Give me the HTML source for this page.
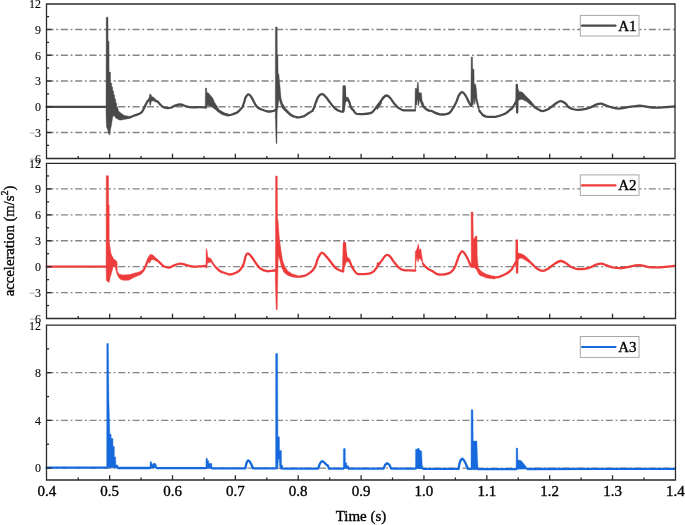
<!DOCTYPE html><html><head><meta charset="utf-8"><style>html,body{margin:0;padding:0;background:#fff;overflow:hidden}svg{display:block;will-change:transform}text{font-family:"Liberation Serif",serif;fill:#000;stroke:#000;stroke-width:0.35px}</style></head><body>
<svg width="685" height="525" viewBox="0 0 685 525">
<line x1="46.5" y1="29.50" x2="675.0" y2="29.50" stroke="#858585" stroke-width="1.3" stroke-dasharray="7.1 2.67 1.9 2.67"/>
<line x1="46.5" y1="55.25" x2="675.0" y2="55.25" stroke="#858585" stroke-width="1.3" stroke-dasharray="7.1 2.67 1.9 2.67"/>
<line x1="46.5" y1="81.00" x2="675.0" y2="81.00" stroke="#858585" stroke-width="1.3" stroke-dasharray="7.1 2.67 1.9 2.67"/>
<line x1="46.5" y1="106.75" x2="675.0" y2="106.75" stroke="#858585" stroke-width="1.3" stroke-dasharray="7.1 2.67 1.9 2.67"/>
<line x1="46.5" y1="132.50" x2="675.0" y2="132.50" stroke="#858585" stroke-width="1.3" stroke-dasharray="7.1 2.67 1.9 2.67"/>
<line x1="46.5" y1="188.90" x2="675.5" y2="188.90" stroke="#858585" stroke-width="1.3" stroke-dasharray="7.1 2.67 1.9 2.67"/>
<line x1="46.5" y1="214.83" x2="675.5" y2="214.83" stroke="#858585" stroke-width="1.3" stroke-dasharray="7.1 2.67 1.9 2.67"/>
<line x1="46.5" y1="240.75" x2="675.5" y2="240.75" stroke="#858585" stroke-width="1.3" stroke-dasharray="7.1 2.67 1.9 2.67"/>
<line x1="46.5" y1="266.68" x2="675.5" y2="266.68" stroke="#858585" stroke-width="1.3" stroke-dasharray="7.1 2.67 1.9 2.67"/>
<line x1="46.5" y1="292.60" x2="675.5" y2="292.60" stroke="#858585" stroke-width="1.3" stroke-dasharray="7.1 2.67 1.9 2.67"/>
<line x1="46.5" y1="372.70" x2="675.5" y2="372.70" stroke="#858585" stroke-width="1.3" stroke-dasharray="7.1 2.67 1.9 2.67"/>
<line x1="46.5" y1="420.40" x2="675.5" y2="420.40" stroke="#858585" stroke-width="1.3" stroke-dasharray="7.1 2.67 1.9 2.67"/>
<line x1="46.5" y1="468.10" x2="675.5" y2="468.10" stroke="#858585" stroke-width="1.3" stroke-dasharray="7.1 2.67 1.9 2.67"/>
<g>
<polygon points="106.0,106.9 106.2,17.2 108.0,17.2 108.1,41.2 109.0,41.2 109.1,72.1 110.5,72.1 110.6,83.0 111.6,83.0 111.7,86.5 112.6,87.0 112.7,90.5 113.6,91.0 113.7,94.5 114.6,95.0 114.7,98.5 115.6,99.0 115.7,102.5 116.6,103.0 116.7,106.5 117.6,107.0 118.5,111.0 121.8,113.8 124.6,115.5 130.0,116.4 130.0,118.4 126.7,119.0 120.0,120.2 116.0,118.2 114.0,115.5 112.7,116.9 111.3,126.0 110.3,130.0 109.7,134.8 109.0,134.8 108.3,131.5 107.3,128.7 106.5,127.3 106.2,120.0 106.0,110.0" fill="#4a4a4a" stroke="#4a4a4a" stroke-width="0.4" stroke-linejoin="round"/>
<polygon points="205.2,107.3 205.4,88.0 206.6,88.0 206.8,92.2 208.7,93.3 211.0,96.0 212.9,98.3 214.4,102.1 217.1,106.3 219.4,110.1 222.0,111.5 222.0,113.3 220.9,113.1 217.9,112.0 215.6,109.7 212.5,107.4 210.2,105.9 207.0,105.5 206.5,108.6 205.6,108.6" fill="#4a4a4a" stroke="#4a4a4a" stroke-width="0.4" stroke-linejoin="round"/>
<polygon points="148.5,100.5 149.8,94.1 150.8,94.3 151.8,96.4 154.0,97.6 156.3,99.9 157.5,101.5 156.0,102.3 154.0,101.0 151.5,101.0 150.5,105.2 149.8,105.2 149.4,101.5" fill="#4a4a4a" stroke="#4a4a4a" stroke-width="0.4" stroke-linejoin="round"/>
<polygon points="219.0,110.0 222.0,111.8 225.0,113.2 228.5,114.1 228.5,116.2 225.0,115.6 222.0,114.6 219.5,113.0" fill="#4a4a4a" stroke="#4a4a4a" stroke-width="0.4" stroke-linejoin="round"/>
<polygon points="275.3,110.5 275.4,27.1 277.2,27.1 277.3,55.2 277.9,55.2 278.1,73.8 278.8,73.8 280.2,88.3 281.0,98.0 282.7,103.7 285.9,108.5 290.7,113.4 294.0,115.5 297.2,116.4 297.2,118.3 293.0,117.2 290.0,115.8 285.9,112.0 282.5,108.5 280.5,104.0 279.0,99.0 277.2,112.0 276.9,143.4 276.1,143.4 275.5,122.3 275.3,116.0" fill="#4a4a4a" stroke="#4a4a4a" stroke-width="0.4" stroke-linejoin="round"/>
<polygon points="342.8,111.5 343.4,86.4 344.6,86.4 345.2,90.0 345.5,98.5 346.5,97.3 347.8,97.0 348.9,99.3 348.5,101.5 346.5,101.0 345.5,103.0 344.5,110.0 343.5,112.0" fill="#4a4a4a" stroke="#4a4a4a" stroke-width="0.4" stroke-linejoin="round"/>
<polygon points="376.0,108.5 377.5,104.5 379.5,102.0 381.0,101.3 381.6,103.5 379.5,106.5 377.5,109.5" fill="#4a4a4a" stroke="#4a4a4a" stroke-width="0.4" stroke-linejoin="round"/>
<polygon points="414.9,110.5 415.2,88.5 416.2,88.1 416.8,90.0 417.6,82.2 418.3,82.2 418.8,92.4 421.4,92.9 422.1,100.5 423.3,102.9 424.0,105.2 425.7,107.6 428.6,109.5 428.6,111.5 425.5,110.0 423.5,108.0 422.0,106.5 421.0,103.5 419.6,100.0 418.8,105.5 418.2,105.5 417.7,100.0 417.2,100.0 416.8,105.0 415.6,105.0 415.5,111.0" fill="#4a4a4a" stroke="#4a4a4a" stroke-width="0.4" stroke-linejoin="round"/>
<polygon points="470.8,106.2 471.2,57.1 472.5,57.1 472.7,69.3 474.0,69.3 474.2,84.3 475.6,84.3 476.5,90.0 477.1,98.6 478.6,105.0 480.0,111.4 479.0,111.5 477.5,106.5 476.2,102.0 475.6,97.5 475.2,102.0 474.5,104.5 473.9,98.6 473.3,104.5 472.5,105.0 471.5,107.0" fill="#4a4a4a" stroke="#4a4a4a" stroke-width="0.4" stroke-linejoin="round"/>
<polygon points="516.6,101.0 516.9,84.7 517.5,84.7 517.8,91.0 519.3,91.4 522.1,92.1 526.4,96.4 530.7,100.7 535.0,106.0 535.0,108.6 530.7,105.0 526.4,101.4 522.0,99.3 519.0,100.0 517.6,101.0" fill="#4a4a4a" stroke="#4a4a4a" stroke-width="0.4" stroke-linejoin="round"/>
<path d="M46.6,106.9 C66.5,106.9 86.3,106.9 106.2,106.9" fill="none" stroke="#4a4a4a" stroke-width="2.3" stroke-linejoin="round" stroke-linecap="round"/>
<path d="M130.0,117.4 C131.4,116.8 132.7,116.1 134.1,115.5 C135.5,114.9 137.4,114.6 138.7,114.0 C140.0,113.4 140.9,113.2 141.9,112.0 C142.9,110.8 143.6,108.8 144.5,107.1 C145.4,105.4 146.3,103.6 147.2,101.8 L149.1,99.5" fill="none" stroke="#4a4a4a" stroke-width="2.3" stroke-linejoin="round" stroke-linecap="round"/>
<path d="M156.3,100.9 L157.9,101.8 C158.9,102.9 159.9,104.2 160.9,105.2 C161.9,106.2 162.8,107.0 164.0,107.5 C165.2,108.0 166.5,108.2 167.8,108.2 C169.1,108.2 170.4,107.9 171.6,107.5 C172.8,107.1 173.5,106.1 175.0,105.6 C176.5,105.1 178.5,104.4 180.4,104.5 C182.3,104.6 184.3,105.9 186.2,106.4 C188.1,106.9 189.9,107.3 192.0,107.4 C194.1,107.5 196.8,107.1 199.0,107.1 C201.2,107.1 203.2,107.2 205.3,107.3" fill="none" stroke="#4a4a4a" stroke-width="2.3" stroke-linejoin="round" stroke-linecap="round"/>
<path d="M222.0,112.6 C223.0,113.1 223.9,113.6 225.0,114.0 C226.1,114.4 227.3,115.0 228.5,115.1 C229.7,115.2 230.5,115.0 232.0,114.5 C233.5,114.0 235.7,113.5 237.5,112.3 C239.3,111.0 240.9,108.8 242.6,107.0 L244.2,102.0 L245.5,97.5 C246.4,96.5 247.2,94.6 248.1,94.4 C249.0,94.2 250.0,95.2 250.8,96.2 C251.7,97.2 252.2,98.8 253.2,100.5 C254.2,102.2 255.4,105.0 256.7,106.5 C258.0,108.0 259.0,108.5 260.9,109.3 C262.8,110.1 265.7,111.3 267.9,111.5 C270.1,111.7 272.2,110.9 274.3,110.6 L275.5,110.0" fill="none" stroke="#4a4a4a" stroke-width="2.3" stroke-linejoin="round" stroke-linecap="round"/>
<path d="M297.1,117.3 L299.0,117.3 C300.6,117.0 302.4,116.8 303.7,116.3 C305.0,115.8 305.2,115.3 306.7,114.4 C308.2,113.5 310.6,112.1 312.5,110.9 L314.3,107.0 L315.8,102.5 L317.8,97.5 L320.0,94.8 L322.0,94.0 L324.0,95.0 C324.8,95.9 325.6,96.7 326.5,97.8 C327.4,98.9 328.4,100.4 329.5,101.8 C330.6,103.2 331.8,105.0 333.0,106.3 C334.2,107.6 335.4,108.7 336.5,109.5 C337.6,110.3 338.5,110.6 339.4,111.0 C340.3,111.4 340.9,111.5 341.7,111.7 L343.3,111.7 L343.8,86.4 L344.6,86.4 L345.2,99.2 L346.4,98.6 C347.2,99.2 347.9,99.0 348.7,100.5 C349.5,102.0 350.2,105.8 351.0,107.4 C351.8,109.0 352.5,109.2 353.4,110.3 C354.3,111.4 354.8,113.2 356.3,113.8 C357.9,114.4 360.4,114.2 362.7,114.1 C365.0,114.0 368.6,113.6 370.4,113.1 C372.2,112.6 372.4,112.1 373.5,110.9 C374.6,109.8 375.9,107.6 377.0,106.2 C378.1,104.8 378.8,104.1 379.9,102.7 C381.0,101.3 382.3,98.8 383.4,97.6 C384.5,96.4 385.5,95.4 386.7,95.5 C387.9,95.6 389.1,96.8 390.4,98.2 C391.7,99.6 393.1,102.3 394.5,103.9 C395.9,105.5 397.2,107.0 398.6,108.0 C400.0,109.0 400.9,109.7 402.7,110.1 C404.5,110.5 407.6,110.3 409.7,110.3 C411.8,110.3 413.2,110.3 415.0,110.3" fill="none" stroke="#4a4a4a" stroke-width="2.3" stroke-linejoin="round" stroke-linecap="round"/>
<path d="M428.6,110.5 C429.5,110.6 430.3,110.5 431.4,110.9 C432.5,111.3 433.8,112.3 435.2,112.9 C436.6,113.5 438.4,114.1 440.0,114.3 C441.6,114.5 443.1,114.6 444.8,114.3 C446.5,114.0 448.1,114.4 450.0,112.4 C451.9,110.4 454.7,105.3 456.1,102.5 C457.6,99.7 457.7,97.4 458.7,95.7 C459.7,94.0 461.0,92.2 462.1,92.2 C463.2,92.2 464.5,94.0 465.6,95.7 C466.8,97.4 467.9,100.2 469.0,102.5 L471.0,105.8" fill="none" stroke="#4a4a4a" stroke-width="2.3" stroke-linejoin="round" stroke-linecap="round"/>
<path d="M479.5,111.0 C480.6,112.3 481.8,114.1 482.9,115.0 C484.0,115.9 484.9,116.3 486.4,116.6 C487.9,116.9 490.4,116.8 492.1,116.8 C493.8,116.8 494.2,117.1 496.4,116.6 C498.5,116.1 502.4,115.0 505.0,113.7 C507.6,112.4 509.5,110.2 511.8,108.5 L513.5,106.2 L515.2,103.4 L516.6,100.0 L516.8,84.9 L517.2,112.6 L517.6,90.0" fill="none" stroke="#4a4a4a" stroke-width="2.3" stroke-linejoin="round" stroke-linecap="round"/>
<path d="M535.0,107.3 C536.2,108.0 537.2,108.9 538.5,109.5 C539.8,110.1 541.0,111.2 542.7,111.1 C544.4,111.0 546.5,110.2 548.5,109.1 C550.5,108.0 552.4,105.8 554.4,104.5 C556.4,103.2 558.5,101.4 560.3,101.2 C562.1,101.0 563.9,102.3 565.3,103.3 C566.7,104.3 567.4,106.0 568.6,107.0 C569.8,108.0 570.8,108.5 572.5,109.0 C574.2,109.5 576.9,109.9 578.9,109.9 C580.9,109.9 582.8,109.5 584.7,109.1 C586.6,108.7 588.6,108.1 590.5,107.4 C592.4,106.7 594.4,105.3 596.1,104.7 C597.9,104.1 599.4,103.6 601.0,103.7 C602.6,103.8 603.8,104.7 605.8,105.4 C607.8,106.1 610.5,107.2 612.7,107.7 C614.9,108.2 616.7,108.6 619.0,108.6 C621.3,108.5 624.2,107.8 626.6,107.4 C629.0,107.0 631.3,106.6 633.5,106.3 C635.7,106.0 637.5,105.5 639.8,105.6 C642.1,105.7 644.8,106.4 647.4,106.8 C650.0,107.2 652.7,107.6 655.7,107.7 C658.7,107.8 662.3,107.4 665.4,107.2 C668.5,107.0 671.5,106.6 674.5,106.3" fill="none" stroke="#4a4a4a" stroke-width="2.3" stroke-linejoin="round" stroke-linecap="round"/>
<polygon points="106.1,266.7 106.2,175.7 108.5,175.7 108.6,204.9 109.2,204.9 109.2,241.4 110.9,252.9 111.4,254.6 113.7,259.1 116.6,260.9 117.1,263.0 117.3,271.1 118.9,274.0 122.9,275.1 129.7,274.6 135.0,272.9 138.3,272.2 142.1,270.8 142.7,272.7 140.8,274.5 135.0,276.9 128.6,280.3 122.9,280.3 120.0,279.1 118.3,276.9 117.0,274.0 115.5,268.5 114.9,266.6 113.7,266.0 112.6,268.9 111.4,273.4 110.3,276.9 109.1,282.6 108.0,281.8 106.3,280.3" fill="#ee3b3b" stroke="#ee3b3b" stroke-width="0.4" stroke-linejoin="round"/>
<polygon points="147.5,261.5 148.5,257.0 150.0,254.5 152.0,254.5 154.0,256.0 156.5,258.5 156.5,261.0 153.0,259.5 151.0,260.0 150.0,263.0 149.0,262.5" fill="#ee3b3b" stroke="#ee3b3b" stroke-width="0.4" stroke-linejoin="round"/>
<polygon points="205.9,266.5 206.2,248.4 207.0,250.0 207.9,257.2 210.8,258.4 213.8,263.6 216.7,267.2 216.7,269.5 214.0,266.5 211.0,262.0 207.5,263.0 206.6,268.5" fill="#ee3b3b" stroke="#ee3b3b" stroke-width="0.4" stroke-linejoin="round"/>
<polygon points="275.4,270.0 275.6,176.0 277.3,176.0 277.5,219.1 277.9,219.1 279.4,238.9 280.9,249.6 282.5,260.2 284.7,266.3 287.8,270.9 292.4,273.9 298.4,275.8 303.0,275.4 303.0,277.0 298.4,277.7 292.4,277.0 287.8,275.4 284.0,272.4 281.7,267.8 279.5,259.0 278.3,256.0 277.9,270.0 277.2,309.7 276.2,309.7 275.3,280.7" fill="#ee3b3b" stroke="#ee3b3b" stroke-width="0.4" stroke-linejoin="round"/>
<polygon points="415.1,270.6 415.3,251.6 416.5,250.0 417.5,247.0 418.5,243.8 419.2,250.0 420.8,248.7 422.0,256.9 423.3,264.5 421.0,260.0 419.5,258.0 418.0,262.0 417.0,257.0 415.8,263.0 415.5,271.0" fill="#ee3b3b" stroke="#ee3b3b" stroke-width="0.4" stroke-linejoin="round"/>
<polygon points="471.3,266.8 471.1,212.0 472.9,212.0 473.3,238.8 474.5,238.8 475.1,236.3 477.0,236.3 477.2,254.9 477.7,262.0 478.5,268.0 480.0,270.0 483.0,272.5 486.0,274.0 490.0,275.3 495.0,276.3 495.0,279.0 490.0,278.5 486.0,277.8 483.0,276.5 480.0,275.5 478.5,274.0 477.3,271.0 476.0,269.0 474.0,267.5 472.3,267.5" fill="#ee3b3b" stroke="#ee3b3b" stroke-width="0.4" stroke-linejoin="round"/>
<polygon points="343.9,266.0 344.2,243.0 344.9,243.0 345.5,252.0 346.5,257.9 348.3,258.8 349.5,260.5 348.5,262.0 347.0,261.5 345.8,263.0 344.8,266.5" fill="#ee3b3b" stroke="#ee3b3b" stroke-width="0.4" stroke-linejoin="round"/>
<polygon points="516.9,259.0 517.6,252.8 521.7,253.9 524.0,255.1 527.5,258.0 532.2,262.7 532.4,265.2 527.5,261.5 521.7,258.0 517.6,259.2" fill="#ee3b3b" stroke="#ee3b3b" stroke-width="0.4" stroke-linejoin="round"/>
<path d="M46.6,266.7 C66.5,266.7 86.4,266.7 106.3,266.7" fill="none" stroke="#ee3b3b" stroke-width="2.3" stroke-linejoin="round" stroke-linecap="round"/>
<path d="M141.0,272.5 C141.8,271.8 142.5,271.6 143.3,270.5 C144.1,269.4 145.0,267.4 145.8,265.9 L147.6,260.9 L149.0,258.0" fill="none" stroke="#ee3b3b" stroke-width="2.3" stroke-linejoin="round" stroke-linecap="round"/>
<path d="M156.0,259.5 L158.0,261.0 C158.9,261.8 159.5,262.5 160.6,263.4 C161.7,264.3 162.9,265.8 164.3,266.5 C165.8,267.2 167.6,267.7 169.3,267.5 C171.0,267.3 172.8,265.7 174.7,265.1 C176.6,264.5 178.6,263.7 180.5,263.7 C182.4,263.7 184.2,264.6 186.4,265.1 C188.6,265.6 191.1,266.4 193.4,266.6 C195.7,266.8 198.5,266.4 200.4,266.3 C202.3,266.2 203.5,266.0 205.1,265.9 L206.1,266.5" fill="none" stroke="#ee3b3b" stroke-width="2.3" stroke-linejoin="round" stroke-linecap="round"/>
<path d="M216.7,268.0 C217.9,269.1 218.8,270.4 220.2,271.2 C221.6,272.0 223.3,272.4 224.9,273.0 C226.5,273.6 227.8,274.5 229.5,274.5 C231.2,274.5 233.7,273.8 235.4,273.0 C237.2,272.2 238.7,271.5 240.0,270.0 C241.3,268.5 242.5,266.6 243.5,264.2 C244.5,261.8 245.1,257.2 245.9,255.4 C246.7,253.6 247.2,253.3 248.2,253.6 C249.2,253.9 250.3,255.2 251.7,257.0 C253.1,258.8 255.2,262.5 256.8,264.5 C258.4,266.5 259.4,267.9 261.1,269.0 C262.8,270.1 264.8,270.9 266.9,271.2 C269.0,271.4 271.6,270.7 273.9,270.5 L275.5,270.5" fill="none" stroke="#ee3b3b" stroke-width="2.3" stroke-linejoin="round" stroke-linecap="round"/>
<path d="M302.0,276.2 C303.0,276.0 304.1,275.9 305.0,275.6 C305.9,275.3 306.2,275.3 307.5,274.4 C308.8,273.5 311.4,271.9 312.8,270.3 C314.2,268.7 314.9,267.1 315.8,265.0 C316.7,262.9 317.1,260.0 318.1,258.0 C319.1,256.0 320.4,253.3 321.6,252.8 C322.8,252.3 323.6,253.7 325.1,255.1 C326.6,256.6 328.8,259.4 330.4,261.5 C332.0,263.6 333.4,265.9 335.0,267.4 C336.6,268.9 338.3,269.6 339.7,270.3 C341.1,271.0 342.0,271.1 343.2,271.5 L344.1,242.8 L344.9,243.0 L345.5,252.0 L346.5,257.9 L348.3,258.8 L349.3,260.2 C350.1,262.2 350.8,264.2 351.6,266.2 L353.7,269.7 C354.9,271.1 355.6,273.1 357.2,273.8 C358.8,274.5 361.0,274.2 363.1,274.1 C365.2,274.0 368.3,273.8 370.0,273.4 C371.7,273.0 372.5,272.3 373.5,271.5 C374.5,270.7 375.2,269.5 376.0,268.5 L377.6,266.2 L378.0,263.3 L378.7,264.6 C379.7,263.3 380.7,261.9 381.7,260.6 C382.7,259.3 383.7,257.6 384.6,256.6 C385.5,255.6 386.3,254.8 387.3,254.8 C388.3,254.8 389.2,255.6 390.4,256.9 C391.6,258.2 393.0,260.8 394.5,262.7 C396.0,264.6 397.6,266.8 399.2,268.0 C400.8,269.2 401.4,269.7 403.9,270.1 C406.4,270.5 410.9,270.4 414.4,270.6 L415.3,270.6" fill="none" stroke="#ee3b3b" stroke-width="2.3" stroke-linejoin="round" stroke-linecap="round"/>
<path d="M423.1,263.9 L424.9,266.2 C426.1,267.2 427.0,268.2 428.4,269.1 C429.8,270.0 431.7,270.7 433.1,271.5 C434.5,272.3 435.2,273.3 436.6,273.8 C438.0,274.3 439.6,274.6 441.2,274.6 C442.8,274.7 444.4,274.4 445.9,274.1 C447.4,273.8 448.8,273.5 450.0,272.8 C451.2,272.1 452.0,271.0 453.0,270.1 L455.2,266.3 L457.0,261.3 L459.0,255.4 C460.0,254.1 461.0,251.5 462.1,251.4 C463.2,251.3 464.5,253.1 465.6,254.8 C466.8,256.5 467.9,259.3 469.0,261.6 L470.7,265.9 L471.5,266.5" fill="none" stroke="#ee3b3b" stroke-width="2.3" stroke-linejoin="round" stroke-linecap="round"/>
<path d="M494.0,277.6 C495.9,277.3 497.7,277.3 499.8,276.6 C501.9,275.9 504.7,274.8 506.7,273.6 C508.7,272.4 510.1,270.7 511.8,269.3 L513.5,266.2 L515.2,263.4 L516.5,261.0 L516.8,240.5 L517.1,272.6 L517.5,256.0" fill="none" stroke="#ee3b3b" stroke-width="2.3" stroke-linejoin="round" stroke-linecap="round"/>
<path d="M532.2,264.0 C533.8,265.5 535.1,267.4 536.9,268.5 C538.6,269.6 540.8,270.9 542.7,270.9 C544.6,270.9 546.5,269.7 548.5,268.5 C550.5,267.3 552.4,265.1 554.4,263.9 C556.4,262.6 558.8,261.1 560.8,261.0 C562.8,260.9 564.5,262.3 566.1,263.3 C567.8,264.3 568.8,265.8 570.7,266.8 C572.6,267.8 575.4,268.8 577.7,269.1 C580.0,269.4 582.6,269.1 584.7,268.8 C586.8,268.5 588.6,268.1 590.5,267.4 C592.4,266.7 594.3,265.3 596.1,264.7 C597.9,264.1 599.7,263.5 601.4,263.6 C603.1,263.7 604.6,264.8 606.5,265.4 C608.4,266.0 610.6,266.9 612.7,267.4 C614.8,267.8 616.7,268.1 619.0,268.1 C621.3,268.1 624.2,267.6 626.6,267.2 C629.0,266.8 631.3,266.1 633.5,265.8 C635.7,265.5 637.5,264.9 639.8,265.1 C642.1,265.3 644.8,266.4 647.4,266.8 C650.0,267.2 652.7,267.4 655.7,267.4 C658.7,267.4 662.3,267.1 665.4,266.8 C668.5,266.5 671.5,266.1 674.5,265.8" fill="none" stroke="#ee3b3b" stroke-width="2.3" stroke-linejoin="round" stroke-linecap="round"/>
<polygon points="106.7,467.7 106.8,343.6 108.4,343.6 108.9,400.0 109.5,420.0 109.8,434.3 111.1,434.3 111.2,438.6 112.9,438.6 113.0,446.4 114.3,446.4 114.4,457.1 115.7,457.1 115.8,465.0 117.9,465.0 118.0,468.0" fill="#1569dc" stroke="#1569dc" stroke-width="0.4" stroke-linejoin="round"/>
<polygon points="149.9,468.0 150.2,461.5 151.4,461.8 152.2,464.5 152.8,464.5 153.3,463.3 155.5,463.5 156.5,465.5 157.2,468.1" fill="#1569dc" stroke="#1569dc" stroke-width="0.4" stroke-linejoin="round"/>
<polygon points="205.9,468.1 206.0,458.5 206.6,458.0 207.3,458.5 207.6,460.4 208.5,460.4 208.8,463.2 211.8,463.6 212.1,468.3" fill="#1569dc" stroke="#1569dc" stroke-width="0.4" stroke-linejoin="round"/>
<polygon points="275.6,468.3 275.7,353.6 277.6,353.6 277.9,436.8 279.4,436.8 279.5,450.4 281.4,450.4 281.5,465.0 282.5,465.0 282.9,468.6 281.0,469.5 280.2,468.5 279.6,466.0 279.2,459.0 278.4,459.0 278.0,466.0 277.3,469.5" fill="#1569dc" stroke="#1569dc" stroke-width="0.4" stroke-linejoin="round"/>
<polygon points="343.3,468.6 343.4,449.0 344.0,448.3 344.8,448.3 345.3,449.0 345.4,462.7 346.7,462.7 346.8,465.7 348.7,465.7 348.9,468.7" fill="#1569dc" stroke="#1569dc" stroke-width="0.4" stroke-linejoin="round"/>
<polygon points="415.5,468.7 415.6,449.3 416.4,449.3 418.7,448.1 419.9,450.4 421.6,451.0 422.2,465.0 423.4,468.9" fill="#1569dc" stroke="#1569dc" stroke-width="0.4" stroke-linejoin="round"/>
<polygon points="471.0,468.9 471.2,409.7 472.9,409.7 473.2,441.1 476.9,441.1 477.5,458.5 477.9,466.0 478.3,469.2 476.0,469.8 473.0,469.8" fill="#1569dc" stroke="#1569dc" stroke-width="0.4" stroke-linejoin="round"/>
<polygon points="516.1,469.2 516.2,448.1 517.7,448.1 517.9,460.1 521.1,460.6 523.4,463.3 525.8,466.2 527.5,469.0" fill="#1569dc" stroke="#1569dc" stroke-width="0.4" stroke-linejoin="round"/>
<path d="M46.6,467.7 C66.7,467.7 86.7,467.7 106.8,467.7" fill="none" stroke="#1569dc" stroke-width="2.3" stroke-linejoin="round" stroke-linecap="round"/>
<path d="M117.9,468.0 C128.6,468.0 139.2,468.0 149.9,468.0" fill="none" stroke="#1569dc" stroke-width="2.3" stroke-linejoin="round" stroke-linecap="round"/>
<path d="M157.0,468.1 C173.3,468.1 189.7,468.1 206.0,468.1" fill="none" stroke="#1569dc" stroke-width="2.3" stroke-linejoin="round" stroke-linecap="round"/>
<path d="M212.0,468.3 C223.1,468.3 234.2,468.3 245.3,468.3 L246.4,463.5 L247.3,461.2 L248.3,460.5 L249.5,461.3 L250.8,463.3 L252.0,466.0 L253.0,468.3 C260.5,468.3 268.1,468.3 275.6,468.3" fill="none" stroke="#1569dc" stroke-width="2.3" stroke-linejoin="round" stroke-linecap="round"/>
<path d="M282.9,468.6 C294.6,468.6 306.3,468.6 318.0,468.6 L319.6,464.3 L320.9,462.0 L322.3,461.2 L323.8,462.0 L325.2,463.5 L326.5,464.6 L327.7,465.5 L329.0,468.6 C333.8,468.6 338.6,468.6 343.4,468.6" fill="none" stroke="#1569dc" stroke-width="2.3" stroke-linejoin="round" stroke-linecap="round"/>
<path d="M348.6,468.7 C360.3,468.7 372.0,468.7 383.7,468.7 L385.2,464.6 L387.2,463.2 L389.2,464.6 L391.3,468.7 C399.4,468.7 407.4,468.7 415.5,468.7" fill="none" stroke="#1569dc" stroke-width="2.3" stroke-linejoin="round" stroke-linecap="round"/>
<path d="M423.4,468.9 C435.1,468.9 446.7,468.9 458.4,468.9 L459.5,463.5 L460.7,460.2 L462.3,458.7 L463.9,460.2 L465.5,463.0 L466.7,466.0 L467.9,468.9 C469.0,468.9 470.1,468.9 471.2,468.9" fill="none" stroke="#1569dc" stroke-width="2.3" stroke-linejoin="round" stroke-linecap="round"/>
<path d="M478.3,469.2 C490.9,469.2 503.5,469.2 516.1,469.2" fill="none" stroke="#1569dc" stroke-width="2.3" stroke-linejoin="round" stroke-linecap="round"/>
<path d="M527.5,469.0 C576.7,468.9 625.8,468.9 675.0,468.8" fill="none" stroke="#1569dc" stroke-width="2.3" stroke-linejoin="round" stroke-linecap="round"/>
</g>
<path d="M46.5,4.0 H675.0 V158.5 H46.5 Z" fill="none" stroke="#2b2b2b" stroke-width="1.3"/>
<line x1="46.5" y1="29.50" x2="51.5" y2="29.50" stroke="#2b2b2b" stroke-width="1.3"/>
<line x1="46.5" y1="55.25" x2="51.5" y2="55.25" stroke="#2b2b2b" stroke-width="1.3"/>
<line x1="46.5" y1="81.00" x2="51.5" y2="81.00" stroke="#2b2b2b" stroke-width="1.3"/>
<line x1="46.5" y1="106.75" x2="51.5" y2="106.75" stroke="#2b2b2b" stroke-width="1.3"/>
<line x1="46.5" y1="132.50" x2="51.5" y2="132.50" stroke="#2b2b2b" stroke-width="1.3"/>
<line x1="46.5" y1="16.63" x2="49.1" y2="16.63" stroke="#2b2b2b" stroke-width="1.3"/>
<line x1="46.5" y1="42.37" x2="49.1" y2="42.37" stroke="#2b2b2b" stroke-width="1.3"/>
<line x1="46.5" y1="68.12" x2="49.1" y2="68.12" stroke="#2b2b2b" stroke-width="1.3"/>
<line x1="46.5" y1="93.87" x2="49.1" y2="93.87" stroke="#2b2b2b" stroke-width="1.3"/>
<line x1="46.5" y1="119.62" x2="49.1" y2="119.62" stroke="#2b2b2b" stroke-width="1.3"/>
<line x1="46.5" y1="145.37" x2="49.1" y2="145.37" stroke="#2b2b2b" stroke-width="1.3"/>
<line x1="109.66" y1="158.5" x2="109.66" y2="153.7" stroke="#2b2b2b" stroke-width="1.3"/>
<line x1="172.52" y1="158.5" x2="172.52" y2="153.7" stroke="#2b2b2b" stroke-width="1.3"/>
<line x1="235.38" y1="158.5" x2="235.38" y2="153.7" stroke="#2b2b2b" stroke-width="1.3"/>
<line x1="298.24" y1="158.5" x2="298.24" y2="153.7" stroke="#2b2b2b" stroke-width="1.3"/>
<line x1="361.10" y1="158.5" x2="361.10" y2="153.7" stroke="#2b2b2b" stroke-width="1.3"/>
<line x1="423.96" y1="158.5" x2="423.96" y2="153.7" stroke="#2b2b2b" stroke-width="1.3"/>
<line x1="486.82" y1="158.5" x2="486.82" y2="153.7" stroke="#2b2b2b" stroke-width="1.3"/>
<line x1="549.68" y1="158.5" x2="549.68" y2="153.7" stroke="#2b2b2b" stroke-width="1.3"/>
<line x1="612.54" y1="158.5" x2="612.54" y2="153.7" stroke="#2b2b2b" stroke-width="1.3"/>
<line x1="78.23" y1="158.5" x2="78.23" y2="156.0" stroke="#2b2b2b" stroke-width="1.3"/>
<line x1="141.09" y1="158.5" x2="141.09" y2="156.0" stroke="#2b2b2b" stroke-width="1.3"/>
<line x1="203.95" y1="158.5" x2="203.95" y2="156.0" stroke="#2b2b2b" stroke-width="1.3"/>
<line x1="266.81" y1="158.5" x2="266.81" y2="156.0" stroke="#2b2b2b" stroke-width="1.3"/>
<line x1="329.67" y1="158.5" x2="329.67" y2="156.0" stroke="#2b2b2b" stroke-width="1.3"/>
<line x1="392.53" y1="158.5" x2="392.53" y2="156.0" stroke="#2b2b2b" stroke-width="1.3"/>
<line x1="455.39" y1="158.5" x2="455.39" y2="156.0" stroke="#2b2b2b" stroke-width="1.3"/>
<line x1="518.25" y1="158.5" x2="518.25" y2="156.0" stroke="#2b2b2b" stroke-width="1.3"/>
<line x1="581.11" y1="158.5" x2="581.11" y2="156.0" stroke="#2b2b2b" stroke-width="1.3"/>
<line x1="643.97" y1="158.5" x2="643.97" y2="156.0" stroke="#2b2b2b" stroke-width="1.3"/>
<text x="41" y="8.30" font-size="12" text-anchor="end" style="stroke-width:0.1px">12</text>
<text x="41" y="33.80" font-size="12" text-anchor="end" style="stroke-width:0.1px">9</text>
<text x="41" y="59.55" font-size="12" text-anchor="end" style="stroke-width:0.1px">6</text>
<text x="41" y="85.30" font-size="12" text-anchor="end" style="stroke-width:0.1px">3</text>
<text x="41" y="111.05" font-size="12" text-anchor="end" style="stroke-width:0.1px">0</text>
<text x="41" y="136.80" font-size="12" text-anchor="end" style="stroke-width:0.1px">3</text>
<line x1="29.8" y1="133.10" x2="34.8" y2="133.10" stroke="#9a9a9a" stroke-width="0.9"/>
<text x="41" y="162.80" font-size="12" text-anchor="end" style="stroke-width:0.1px">6</text>
<line x1="29.8" y1="159.10" x2="34.8" y2="159.10" stroke="#9a9a9a" stroke-width="0.9"/>
<path d="M46.5,163.4 H675.5 V318.5 H46.5 Z" fill="none" stroke="#2b2b2b" stroke-width="1.3"/>
<line x1="46.5" y1="188.90" x2="51.5" y2="188.90" stroke="#2b2b2b" stroke-width="1.3"/>
<line x1="46.5" y1="214.83" x2="51.5" y2="214.83" stroke="#2b2b2b" stroke-width="1.3"/>
<line x1="46.5" y1="240.75" x2="51.5" y2="240.75" stroke="#2b2b2b" stroke-width="1.3"/>
<line x1="46.5" y1="266.68" x2="51.5" y2="266.68" stroke="#2b2b2b" stroke-width="1.3"/>
<line x1="46.5" y1="292.60" x2="51.5" y2="292.60" stroke="#2b2b2b" stroke-width="1.3"/>
<line x1="46.5" y1="175.94" x2="49.1" y2="175.94" stroke="#2b2b2b" stroke-width="1.3"/>
<line x1="46.5" y1="201.86" x2="49.1" y2="201.86" stroke="#2b2b2b" stroke-width="1.3"/>
<line x1="46.5" y1="227.79" x2="49.1" y2="227.79" stroke="#2b2b2b" stroke-width="1.3"/>
<line x1="46.5" y1="253.72" x2="49.1" y2="253.72" stroke="#2b2b2b" stroke-width="1.3"/>
<line x1="46.5" y1="279.64" x2="49.1" y2="279.64" stroke="#2b2b2b" stroke-width="1.3"/>
<line x1="46.5" y1="305.57" x2="49.1" y2="305.57" stroke="#2b2b2b" stroke-width="1.3"/>
<line x1="109.66" y1="318.5" x2="109.66" y2="313.7" stroke="#2b2b2b" stroke-width="1.3"/>
<line x1="172.52" y1="318.5" x2="172.52" y2="313.7" stroke="#2b2b2b" stroke-width="1.3"/>
<line x1="235.38" y1="318.5" x2="235.38" y2="313.7" stroke="#2b2b2b" stroke-width="1.3"/>
<line x1="298.24" y1="318.5" x2="298.24" y2="313.7" stroke="#2b2b2b" stroke-width="1.3"/>
<line x1="361.10" y1="318.5" x2="361.10" y2="313.7" stroke="#2b2b2b" stroke-width="1.3"/>
<line x1="423.96" y1="318.5" x2="423.96" y2="313.7" stroke="#2b2b2b" stroke-width="1.3"/>
<line x1="486.82" y1="318.5" x2="486.82" y2="313.7" stroke="#2b2b2b" stroke-width="1.3"/>
<line x1="549.68" y1="318.5" x2="549.68" y2="313.7" stroke="#2b2b2b" stroke-width="1.3"/>
<line x1="612.54" y1="318.5" x2="612.54" y2="313.7" stroke="#2b2b2b" stroke-width="1.3"/>
<line x1="78.23" y1="318.5" x2="78.23" y2="316.0" stroke="#2b2b2b" stroke-width="1.3"/>
<line x1="141.09" y1="318.5" x2="141.09" y2="316.0" stroke="#2b2b2b" stroke-width="1.3"/>
<line x1="203.95" y1="318.5" x2="203.95" y2="316.0" stroke="#2b2b2b" stroke-width="1.3"/>
<line x1="266.81" y1="318.5" x2="266.81" y2="316.0" stroke="#2b2b2b" stroke-width="1.3"/>
<line x1="329.67" y1="318.5" x2="329.67" y2="316.0" stroke="#2b2b2b" stroke-width="1.3"/>
<line x1="392.53" y1="318.5" x2="392.53" y2="316.0" stroke="#2b2b2b" stroke-width="1.3"/>
<line x1="455.39" y1="318.5" x2="455.39" y2="316.0" stroke="#2b2b2b" stroke-width="1.3"/>
<line x1="518.25" y1="318.5" x2="518.25" y2="316.0" stroke="#2b2b2b" stroke-width="1.3"/>
<line x1="581.11" y1="318.5" x2="581.11" y2="316.0" stroke="#2b2b2b" stroke-width="1.3"/>
<line x1="643.97" y1="318.5" x2="643.97" y2="316.0" stroke="#2b2b2b" stroke-width="1.3"/>
<text x="41" y="167.70" font-size="12" text-anchor="end" style="stroke-width:0.1px">12</text>
<text x="41" y="193.20" font-size="12" text-anchor="end" style="stroke-width:0.1px">9</text>
<text x="41" y="219.13" font-size="12" text-anchor="end" style="stroke-width:0.1px">6</text>
<text x="41" y="245.05" font-size="12" text-anchor="end" style="stroke-width:0.1px">3</text>
<text x="41" y="270.98" font-size="12" text-anchor="end" style="stroke-width:0.1px">0</text>
<text x="41" y="296.90" font-size="12" text-anchor="end" style="stroke-width:0.1px">3</text>
<line x1="29.8" y1="293.20" x2="34.8" y2="293.20" stroke="#9a9a9a" stroke-width="0.9"/>
<text x="41" y="322.80" font-size="12" text-anchor="end" style="stroke-width:0.1px">6</text>
<line x1="29.8" y1="319.10" x2="34.8" y2="319.10" stroke="#9a9a9a" stroke-width="0.9"/>
<path d="M46.5,325.2 H675.5 V480.0 H46.5 Z" fill="none" stroke="#2b2b2b" stroke-width="1.3"/>
<line x1="46.5" y1="372.70" x2="51.5" y2="372.70" stroke="#2b2b2b" stroke-width="1.3"/>
<line x1="46.5" y1="420.40" x2="51.5" y2="420.40" stroke="#2b2b2b" stroke-width="1.3"/>
<line x1="46.5" y1="468.10" x2="51.5" y2="468.10" stroke="#2b2b2b" stroke-width="1.3"/>
<line x1="46.5" y1="348.85" x2="49.1" y2="348.85" stroke="#2b2b2b" stroke-width="1.3"/>
<line x1="46.5" y1="396.55" x2="49.1" y2="396.55" stroke="#2b2b2b" stroke-width="1.3"/>
<line x1="46.5" y1="444.25" x2="49.1" y2="444.25" stroke="#2b2b2b" stroke-width="1.3"/>
<line x1="109.66" y1="480.0" x2="109.66" y2="475.2" stroke="#2b2b2b" stroke-width="1.3"/>
<line x1="172.52" y1="480.0" x2="172.52" y2="475.2" stroke="#2b2b2b" stroke-width="1.3"/>
<line x1="235.38" y1="480.0" x2="235.38" y2="475.2" stroke="#2b2b2b" stroke-width="1.3"/>
<line x1="298.24" y1="480.0" x2="298.24" y2="475.2" stroke="#2b2b2b" stroke-width="1.3"/>
<line x1="361.10" y1="480.0" x2="361.10" y2="475.2" stroke="#2b2b2b" stroke-width="1.3"/>
<line x1="423.96" y1="480.0" x2="423.96" y2="475.2" stroke="#2b2b2b" stroke-width="1.3"/>
<line x1="486.82" y1="480.0" x2="486.82" y2="475.2" stroke="#2b2b2b" stroke-width="1.3"/>
<line x1="549.68" y1="480.0" x2="549.68" y2="475.2" stroke="#2b2b2b" stroke-width="1.3"/>
<line x1="612.54" y1="480.0" x2="612.54" y2="475.2" stroke="#2b2b2b" stroke-width="1.3"/>
<line x1="78.23" y1="480.0" x2="78.23" y2="477.5" stroke="#2b2b2b" stroke-width="1.3"/>
<line x1="141.09" y1="480.0" x2="141.09" y2="477.5" stroke="#2b2b2b" stroke-width="1.3"/>
<line x1="203.95" y1="480.0" x2="203.95" y2="477.5" stroke="#2b2b2b" stroke-width="1.3"/>
<line x1="266.81" y1="480.0" x2="266.81" y2="477.5" stroke="#2b2b2b" stroke-width="1.3"/>
<line x1="329.67" y1="480.0" x2="329.67" y2="477.5" stroke="#2b2b2b" stroke-width="1.3"/>
<line x1="392.53" y1="480.0" x2="392.53" y2="477.5" stroke="#2b2b2b" stroke-width="1.3"/>
<line x1="455.39" y1="480.0" x2="455.39" y2="477.5" stroke="#2b2b2b" stroke-width="1.3"/>
<line x1="518.25" y1="480.0" x2="518.25" y2="477.5" stroke="#2b2b2b" stroke-width="1.3"/>
<line x1="581.11" y1="480.0" x2="581.11" y2="477.5" stroke="#2b2b2b" stroke-width="1.3"/>
<line x1="643.97" y1="480.0" x2="643.97" y2="477.5" stroke="#2b2b2b" stroke-width="1.3"/>
<text x="41" y="329.50" font-size="12" text-anchor="end" style="stroke-width:0.1px">12</text>
<text x="41" y="377.00" font-size="12" text-anchor="end" style="stroke-width:0.1px">8</text>
<text x="41" y="424.70" font-size="12" text-anchor="end" style="stroke-width:0.1px">4</text>
<text x="41" y="472.40" font-size="12" text-anchor="end" style="stroke-width:0.1px">0</text>
<text x="46.80" y="496.3" font-size="15" text-anchor="middle">0.4</text>
<text x="109.66" y="496.3" font-size="15" text-anchor="middle">0.5</text>
<text x="172.52" y="496.3" font-size="15" text-anchor="middle">0.6</text>
<text x="235.38" y="496.3" font-size="15" text-anchor="middle">0.7</text>
<text x="298.24" y="496.3" font-size="15" text-anchor="middle">0.8</text>
<text x="361.10" y="496.3" font-size="15" text-anchor="middle">0.9</text>
<text x="423.96" y="496.3" font-size="15" text-anchor="middle">1.0</text>
<text x="486.82" y="496.3" font-size="15" text-anchor="middle">1.1</text>
<text x="549.68" y="496.3" font-size="15" text-anchor="middle">1.2</text>
<text x="612.54" y="496.3" font-size="15" text-anchor="middle">1.3</text>
<text x="675.40" y="496.3" font-size="15" text-anchor="middle">1.4</text>
<text x="361" y="521.3" font-size="15" text-anchor="middle">Time (s)</text>
<text transform="translate(14.2,240.9) rotate(-90)" font-size="14.7" text-anchor="middle">acceleration (m/s<tspan font-size="10" dy="-6.3">2</tspan><tspan dy="6.3">)</tspan></text>
<rect x="580.3" y="15.4" width="58.7" height="20.6" fill="#fff" stroke="#a8a8a8" stroke-width="1"/>
<line x1="582" y1="25.7" x2="615.5" y2="25.7" stroke="#4a4a4a" stroke-width="2.2" stroke-linecap="round"/>
<text x="618.2" y="30.5" font-size="15">A1</text>
<rect x="580.3" y="174.9" width="58.7" height="20.5" fill="#fff" stroke="#a8a8a8" stroke-width="1"/>
<line x1="582" y1="185.4" x2="615.5" y2="185.4" stroke="#ee3b3b" stroke-width="2.2" stroke-linecap="round"/>
<text x="618.2" y="190.2" font-size="15">A2</text>
<rect x="580.3" y="336.5" width="58.7" height="20.9" fill="#fff" stroke="#a8a8a8" stroke-width="1"/>
<line x1="582" y1="347.0" x2="615.5" y2="347.0" stroke="#1569dc" stroke-width="2.2" stroke-linecap="round"/>
<text x="618.2" y="351.8" font-size="15">A3</text>
</svg></body></html>
